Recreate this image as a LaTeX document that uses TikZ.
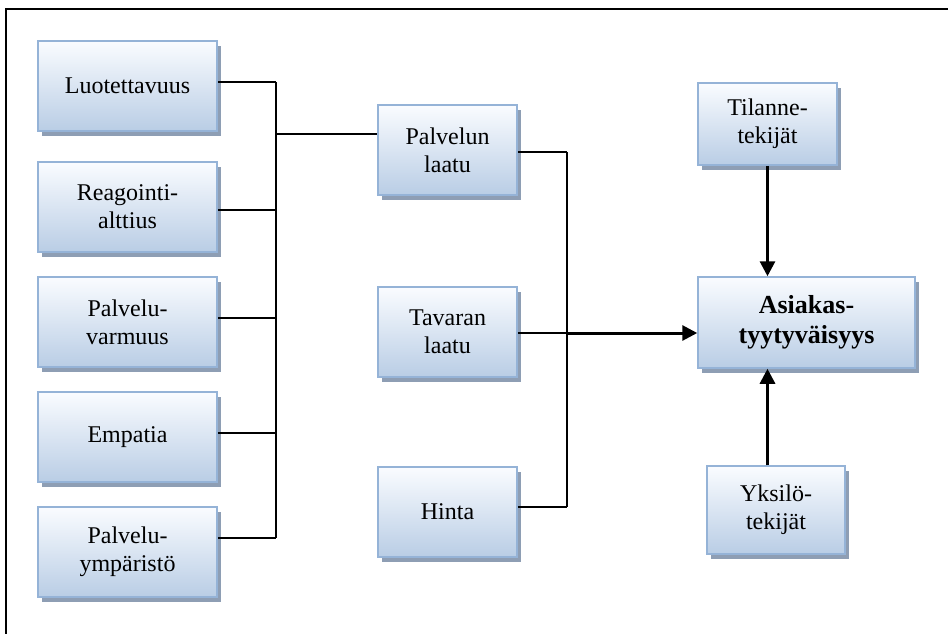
\documentclass[tikz,border=0pt]{standalone}
\usepackage{fontspec}
\setmainfont{Liberation Serif}
\usetikzlibrary{arrows.meta,shadows}
\definecolor{bordc}{RGB}{149,179,215}
\definecolor{topc}{RGB}{250,252,255}
\definecolor{botc}{RGB}{185,205,229}
\definecolor{shadowc}{RGB}{142,158,180}
\tikzset{
  box/.style={draw=bordc, line width=1.5pt, top color=topc, bottom color=botc,
    drop shadow={shadow xshift=3.5pt, shadow yshift=-4.5pt, fill=shadowc, opacity=1},
    align=center, inner sep=2pt, font=\fontsize{24pt}{28pt}\selectfont},
  lbox/.style={box, minimum width=179pt, minimum height=90pt},
  mbox/.style={box, minimum width=139pt, minimum height=90pt},
  conn/.style={line width=1.5pt, black},
  bigarrow/.style={line width=3pt, black, -{Triangle[length=15pt,width=15pt]}}
}
\begin{document}
\begin{tikzpicture}[x=1pt,y=-1pt]
\useasboundingbox (0,0) rectangle (948,633);
\draw[line width=2pt] (6,634) -- (6,9) -- (949,9);
% left column
\node[lbox] (lu) at (127.5,86) {Luotettavuus};
\node[lbox] (re) at (127.5,207) {Reagointi-\\alttius};
\node[lbox] (pv) at (127.5,322) {Palvelu-\\varmuus};
\node[lbox] (em) at (127.5,437) {Empatia};
\node[lbox] (py) at (127.5,552) {Palvelu-\\ympäristö};
% middle column
\node[mbox] (pl) at (447.5,150) {Palvelun\\laatu};
\node[mbox] (tl) at (447.5,332) {Tavaran\\laatu};
\node[mbox] (hi) at (447.5,512) {Hinta};
% right column
\node[box, minimum width=139pt, minimum height=82pt] (ti) at (767.5,124) {Tilanne-\\tekijät};
\node[box, minimum width=217pt, minimum height=91pt, font=\fontsize{26pt}{30pt}\selectfont\bfseries] (as) at (806.5,322.5) {Asiakas-\\tyytyväisyys};
\node[box, minimum width=138pt, minimum height=88pt] (yk) at (776,510) {Yksilö-\\tekijät};
% joints
\coordinate (j1) at (276,82);
\coordinate (j2) at (276,210);
\coordinate (j3) at (276,318);
\coordinate (j4) at (276,433);
\coordinate (j5) at (276,538);
\coordinate (jp) at (276,134);
\coordinate (k1) at (567,152);
\coordinate (k2) at (567,333);
\coordinate (k3) at (567,507);
% left connectors
\draw[conn] (lu.east |- j1) -- (j1);
\draw[conn] (re.east |- j2) -- (j2);
\draw[conn] (pv.east |- j3) -- (j3);
\draw[conn] (em.east |- j4) -- (j4);
\draw[conn] (py.east |- j5) -- (j5);
\draw[conn] (j1) -- (j5);
\draw[conn] (jp) -- (pl.west |- jp);
% middle connectors
\draw[conn] (pl.east |- k1) -- (k1);
\draw[conn] (tl.east |- k2) -- (k2);
\draw[conn] (hi.east |- k3) -- (k3);
\draw[conn] (k1) -- (k3);
\draw[bigarrow] (k2) -- (as.west |- k2);
% right arrows
\draw[bigarrow] (ti.south) -- (ti.south |- as.north);
\draw[bigarrow] (yk.north -| ti.south) -- (as.south -| ti.south);
\end{tikzpicture}
\end{document}
